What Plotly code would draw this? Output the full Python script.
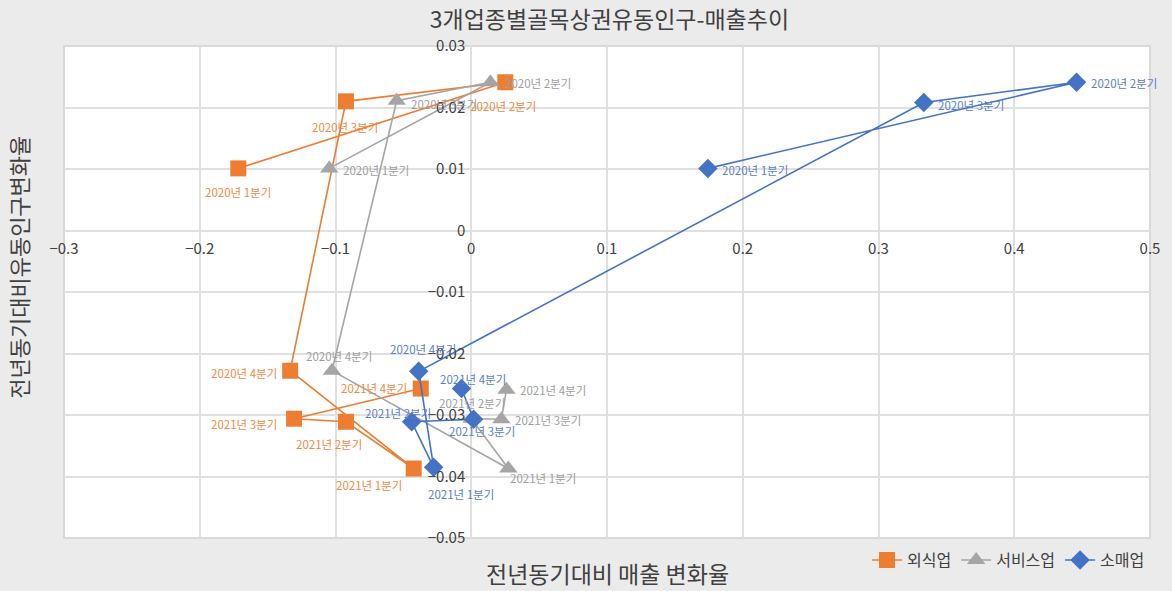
import plotly.graph_objects as go

quarters = ["2020년 1분기", "2020년 2분기", "2020년 3분기", "2020년 4분기",
            "2021년 1분기", "2021년 2분기", "2021년 3분기", "2021년 4분기"]

# 외식업 (food service)
food_sales = [-0.1716, 0.0251, -0.0923, -0.1334, -0.0424, -0.0923, -0.1305, -0.0372]
food_pop = [0.0101, 0.0241, 0.0210, -0.0228, -0.0387, -0.0311, -0.0306, -0.0257]

# 서비스업 (services)
service_sales = [-0.1046, 0.0141, -0.0549, -0.1026, 0.0273, 0.0002, 0.0222, 0.0259]
service_pop = [0.0101, 0.0241, 0.0211, -0.0228, -0.0387, -0.0306, -0.0307, -0.0259]

# 소매업 (retail)
retail_sales = [0.1743, 0.4459, 0.3334, -0.0387, -0.0277, -0.0439, 0.0017, -0.0072]
retail_pop = [0.0101, 0.0241, 0.0208, -0.0229, -0.0385, -0.0311, -0.0307, -0.0257]

FONT = "Noto Sans CJK KR"
ORANGE, GRAY, BLUE = "#ED7D31", "#A5A5A5", "#4472C4"

# label offsets in pixels (dx right, dy down) relative to each point
food_offsets = [(0, 24), (-2, 24), (-1, 26), (-46, 2), (-45, 16), (-17, 22), (-50, 5), (-47, -1)]
service_offsets = [(47, 2), (48, 1), (47, 3), (7, -15), (35, 9), (0, -16), (47, 1), (47, 0)]
retail_offsets = [(47, 2), (47, 1), (47, 2), (4, -22), (27, 27), (-14, -9), (8, 12), (12, -10)]

series = [
    ("외식업", food_sales, food_pop, ORANGE, "square", 16, food_offsets, "#F08A45"),
    ("서비스업", service_sales, service_pop, GRAY, "triangle-up", 16, service_offsets, "#9E9E9E"),
    ("소매업", retail_sales, retail_pop, BLUE, "diamond", 15, retail_offsets, "#5B7EC6"),
]

fig = go.Figure()
annotations = []
for name, xs, ys, color, symbol, msize, offsets, tcolor in series:
    fig.add_trace(go.Scatter(
        x=xs, y=ys, name=name, mode="lines+markers",
        line=dict(color=color, width=1.6),
        marker=dict(symbol=symbol, size=msize, color=color,
                    line=dict(width=0)),
    ))
    for q, xv, yv, (dx, dy) in zip(quarters, xs, ys, offsets):
        annotations.append(dict(
            x=xv, y=yv, xref="x", yref="y", text=q, showarrow=False,
            xshift=dx, yshift=-dy,
            font=dict(family=FONT, size=11.5, color=tcolor),
        ))

# axis titles
annotations.append(dict(
    x=0.5, y=-0.072, xref="paper", yref="paper", yanchor="middle",
    text="전년동기대비 매출 변화율", showarrow=False,
    font=dict(family=FONT, size=23, color="#404040"),
))
annotations.append(dict(
    x=-0.042, y=0.55, xref="paper", yref="paper", xanchor="center",
    yanchor="middle",
    text="전년동기대비유동인구변화율", showarrow=False, textangle=-90,
    font=dict(family=FONT, size=22, color="#404040"),
))

x_range = [-0.3, 0.5]
y_range = [-0.05, 0.03]

fig.update_layout(
    width=1172, height=591,
    margin=dict(l=64, r=18, t=46, b=53),
    paper_bgcolor="#EBEBEB",
    plot_bgcolor="#FFFFFF",
    font=dict(family=FONT, color="#404040"),
    title=dict(
        text="3개업종별골목상권유동인구-매출추이",
        x=0.52, xanchor="center", y=0.966, yanchor="middle",
        font=dict(family=FONT, size=23, color="#404040"),
    ),
    xaxis=dict(
        range=x_range, dtick=0.1, tick0=0,
        anchor="free",
        position=(0 - y_range[0]) / (y_range[1] - y_range[0]),
        showgrid=True, gridcolor="#E0E0E0", gridwidth=2,
        zeroline=True, zerolinecolor="#E0E0E0", zerolinewidth=2,
        showline=False, ticks="",
        tickfont=dict(family=FONT, size=15, color="#404040"),
        ticklabelstandoff=7,
    ),
    yaxis=dict(
        range=y_range, dtick=0.01, tick0=0,
        anchor="free",
        position=(0 - x_range[0]) / (x_range[1] - x_range[0]),
        showgrid=True, gridcolor="#E0E0E0", gridwidth=2,
        zeroline=True, zerolinecolor="#E0E0E0", zerolinewidth=2,
        showline=False, ticks="",
        tickfont=dict(family=FONT, size=15, color="#404040"),
        ticklabelstandoff=6,
    ),
    legend=dict(
        orientation="h", x=1.0, xanchor="right", y=-0.045, yanchor="middle",
        font=dict(family=FONT, size=16, color="#404040"),
        bgcolor="rgba(0,0,0,0)",
    ),
    showlegend=True,
    annotations=annotations,
    shapes=[dict(
        type="rect", xref="paper", yref="paper", x0=0, y0=0, x1=1, y1=1,
        line=dict(color="#D9D9D9", width=2), layer="below",
    )],
)

fig.write_html("out.html")
